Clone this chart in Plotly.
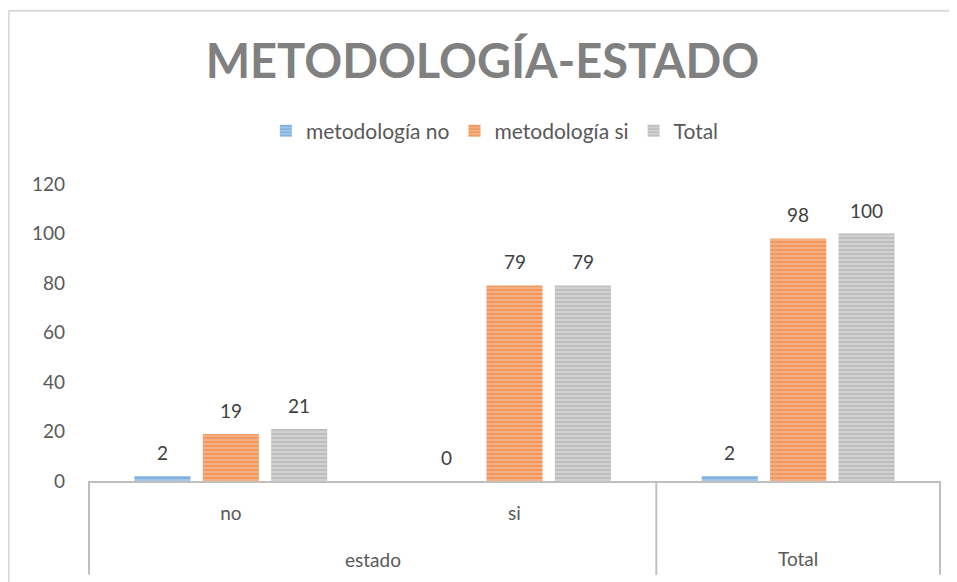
import plotly.graph_objects as go

# categories on the x axis (inner level) and their outer groups
categorias = ["no", "si", "Total"]
etiquetas_x = ["no", "si", ""]
grupos = ["estado", "Total"]

# series values
metodologia_no = [2, 0, 2]
metodologia_si = [19, 79, 98]
total = [21, 79, 100]

y_ticks = [0, 20, 40, 60, 80, 100, 120]

series = [
    ("metodología no", metodologia_no, "#5B9BD5", "#A9CBEA"),
    ("metodología si", metodologia_si, "#ED7D31", "#F6B48C"),
    ("Total", total, "#A5A5A5", "#D6D6D6"),
]

BARGAP = 0.277
fuente_txt = dict(family="Lato", size=19, color="#404040")

fig = go.Figure()
annotations = []
for i, (nombre, valores, color, claro) in enumerate(series):
    fig.add_trace(go.Bar(
        x=categorias, y=valores, name=nombre,
        marker=dict(color=claro, line=dict(width=0),
                    pattern=dict(shape="-", fgcolor=color, bgcolor=claro,
                                 size=4, solidity=0.6, fillmode="overlay")),
    ))
    # data labels, placed above each bar (Excel leaves a larger gap than plotly)
    slot = (1 - BARGAP) / len(series)
    for j, v in enumerate(valores):
        annotations.append(dict(text=str(v), x=j + (i - 1) * slot, xref="x", y=v, yref="y",
                                yanchor="bottom", yshift=10, showarrow=False, font=fuente_txt))

gris = "#BFBFBF"
shapes = []
# frame of the two-level category axis
for xv in [-0.5, 1.5, 2.5]:
    shapes.append(dict(type="line", xref="x", yref="paper", x0=xv, x1=xv,
                       y0=0, y1=-0.316, line=dict(color=gris, width=2)))
# light chart border (top and left)
shapes.append(dict(type="line", xref="paper", yref="paper", x0=-0.093, x1=1.03,
                   y0=1.583, y1=1.583, line=dict(color="#D9D9D9", width=2)))
shapes.append(dict(type="line", xref="paper", yref="paper", x0=-0.093, x1=-0.093,
                   y0=1.583, y1=-0.36, line=dict(color="#D9D9D9", width=2)))

fuente_eje = dict(family="Lato", size=19, color="#595959")
annotations += [
    dict(text=grupos[0], x=0.5, xref="x", y=-0.263, yref="paper", yanchor="middle",
         showarrow=False, font=fuente_eje),
    dict(text=grupos[1], x=2, xref="x", y=-0.26, yref="paper", yanchor="middle",
         showarrow=False, font=fuente_eje),
]

fig.update_layout(
    width=949, height=574,
    margin=dict(l=80, r=16, t=176, b=101),
    paper_bgcolor="white", plot_bgcolor="white",
    title=dict(text="<b>METODOLOGÍA-ESTADO</b>", x=0.5, xanchor="center",
               y=1 - 54 / 574, yanchor="middle",
               font=dict(family="Lato", size=47, color="#808080")),
    legend=dict(orientation="h", x=0.477, xanchor="center", y=1.178, yanchor="middle",
                font=dict(family="Lato", size=21, color="#595959"),
                traceorder="normal", itemclick=False, itemwidth=30),
    bargap=BARGAP, bargroupgap=0.18,
    showlegend=True,
    shapes=shapes, annotations=annotations,
)
fig.update_xaxes(type="category", tickvals=categorias, ticktext=etiquetas_x,
                 showline=True, linecolor=gris, linewidth=2, showgrid=False,
                 ticks="", ticklabelstandoff=14, tickfont=fuente_eje)
fig.update_yaxes(range=[0, 120], tickvals=y_ticks, showgrid=False, zeroline=False,
                 showline=False, ticks="", ticklabelstandoff=22, tickfont=fuente_eje)

fig.write_html("out.html")
